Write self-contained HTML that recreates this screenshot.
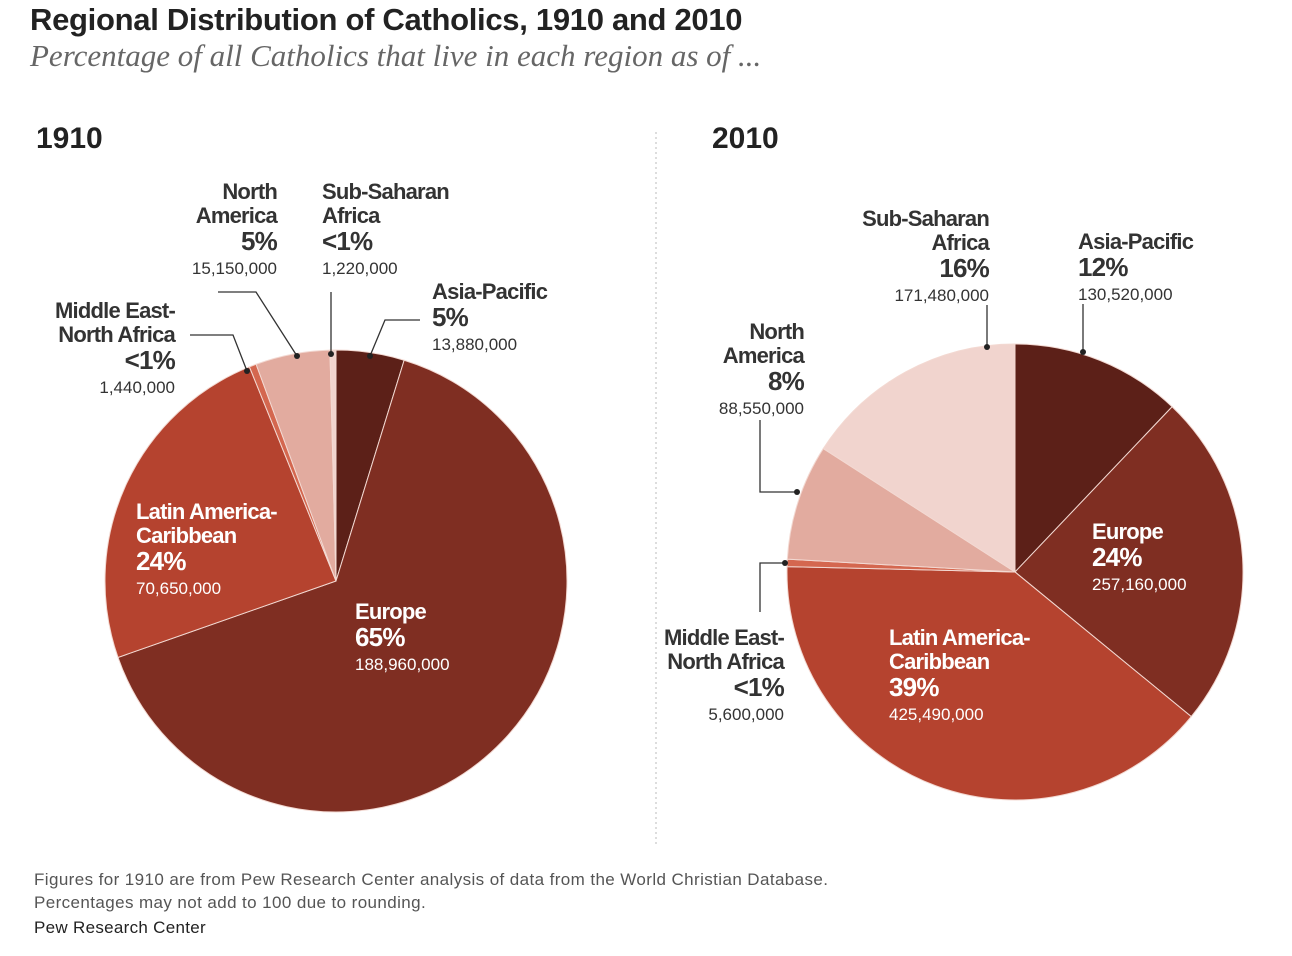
<!DOCTYPE html>
<html><head><meta charset="utf-8"><style>
body{margin:0;width:1292px;height:956px;background:#fff;font-family:"Liberation Sans",sans-serif;color:#222;position:relative;overflow:hidden}
.a{position:absolute;white-space:nowrap}
.lbl{position:absolute;white-space:nowrap;line-height:24px;font-size:22px;font-weight:bold;letter-spacing:-0.8px;color:#333}
.lbl .p{font-size:26px;line-height:26px}
.lbl .n{font-size:17px;font-weight:normal;letter-spacing:0;line-height:26px}
.r{text-align:right}
.w{color:#fff}
</style></head><body>
<div class="a" style="left:30px;top:2px;font-size:31px;font-weight:bold;letter-spacing:-0.3px;color:#222">Regional Distribution of Catholics, 1910 and 2010</div>
<div class="a" style="left:30px;top:38px;font-family:'Liberation Serif',serif;font-style:italic;font-size:31px;color:#666">Percentage of all Catholics that live in each region as of ...</div>
<div class="a" style="left:36px;top:122px;font-size:30px;font-weight:bold">1910</div>
<div class="a" style="left:712px;top:122px;font-size:30px;font-weight:bold">2010</div>
<svg id="svg" width="1292" height="956" style="position:absolute;left:0;top:0">
<line x1="656" y1="132" x2="656" y2="845" stroke="#bbb" stroke-dasharray="2,3"/>
<g id="pies"></g>
<g fill="none" stroke="#333" stroke-width="1.3">
<polyline points="218,292 256,292 297,356"/>
<polyline points="331,292 331,354"/>
<polyline points="420,320 385,320 370,356"/>
<polyline points="190,335 233,335 247,371"/>
<polyline points="987,305 987,347"/>
<polyline points="1083,304 1083,352"/>
<polyline points="760,420 760,492 797,492"/>
<polyline points="760,612 760,563 785,563"/>
</g>
<g fill="#222">
<circle cx="297" cy="356" r="3"/><circle cx="331" cy="354" r="3"/><circle cx="370" cy="356" r="3"/><circle cx="247" cy="371" r="3"/>
<circle cx="987" cy="347" r="3"/><circle cx="1083" cy="352" r="3"/><circle cx="797" cy="492" r="3"/><circle cx="785" cy="563" r="3"/>
</g>
</svg>
<div class="lbl r" style="right:1015px;top:180px">North<br>America<br><span class="p">5%</span><br><span class="n">15,150,000</span></div>
<div class="lbl" style="left:322px;top:180px">Sub-Saharan<br>Africa<br><span class="p">&lt;1%</span><br><span class="n">1,220,000</span></div>
<div class="lbl" style="left:432px;top:280px">Asia-Pacific<br><span class="p">5%</span><br><span class="n">13,880,000</span></div>
<div class="lbl r" style="right:1117px;top:299px">Middle East-<br>North Africa<br><span class="p">&lt;1%</span><br><span class="n">1,440,000</span></div>
<div class="lbl w" style="left:136px;top:500px">Latin America-<br>Caribbean<br><span class="p">24%</span><br><span class="n">70,650,000</span></div>
<div class="lbl w" style="left:355px;top:600px">Europe<br><span class="p">65%</span><br><span class="n">188,960,000</span></div>
<div class="lbl r" style="right:303px;top:207px">Sub-Saharan<br>Africa<br><span class="p">16%</span><br><span class="n">171,480,000</span></div>
<div class="lbl" style="left:1078px;top:230px">Asia-Pacific<br><span class="p">12%</span><br><span class="n">130,520,000</span></div>
<div class="lbl r" style="right:488px;top:320px">North<br>America<br><span class="p">8%</span><br><span class="n">88,550,000</span></div>
<div class="lbl r" style="right:508px;top:626px">Middle East-<br>North Africa<br><span class="p">&lt;1%</span><br><span class="n">5,600,000</span></div>
<div class="lbl w" style="left:1092px;top:520px">Europe<br><span class="p">24%</span><br><span class="n">257,160,000</span></div>
<div class="lbl w" style="left:889px;top:626px">Latin America-<br>Caribbean<br><span class="p">39%</span><br><span class="n">425,490,000</span></div>
<div class="a" style="left:34px;top:868px;font-size:17px;color:#555;line-height:23px;letter-spacing:0.4px">Figures for 1910 are from Pew Research Center analysis of data from the World Christian Database.<br>Percentages may not add to 100 due to rounding.</div>
<div class="a" style="left:34px;top:918px;font-size:17px;color:#222;letter-spacing:0.3px">Pew Research Center</div>
<script>
const regions=["Asia-Pacific","Europe","Latin America-Caribbean","Middle East-North Africa","North America","Sub-Saharan Africa"];
const values1910=[13.88,188.96,70.65,1.44,15.15,1.22];
const values2010=[130.52,257.16,425.49,5.6,88.55,171.48];
const colors=["#5c2018","#7f2e22","#b5432f","#d4674f","#e2ab9f","#f1d4ce"];
const g=document.getElementById('pies');
function pie(vals,cx,cy,r,tag){
  const tot=vals.reduce((a,b)=>a+b,0);let a0=0;
  vals.forEach((v,i)=>{
    const a1=a0+v/tot*2*Math.PI;
    const x0=cx+r*Math.sin(a0),y0=cy-r*Math.cos(a0),x1=cx+r*Math.sin(a1),y1=cy-r*Math.cos(a1);
    const p=document.createElementNS('http://www.w3.org/2000/svg','path');
    p.setAttribute('d',`M${cx},${cy}L${x0},${y0}A${r},${r} 0 ${a1-a0>Math.PI?1:0} 1 ${x1},${y1}Z`);
    p.setAttribute('fill',colors[i]);p.setAttribute('stroke','#f3d9d2');p.setAttribute('stroke-width','1');
    
    
    g.appendChild(p);a0=a1;
  });
}
pie(values1910,336,581,231,'1910');
pie(values2010,1015,572,228,'2010');
</script>
</body></html>
